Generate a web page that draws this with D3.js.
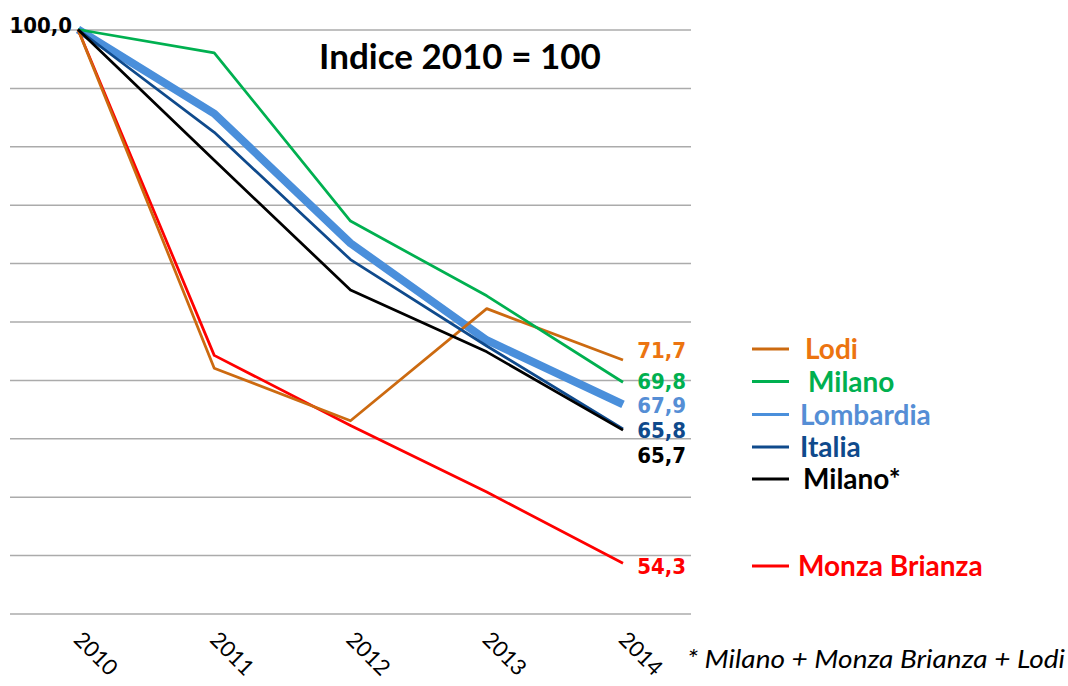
<!DOCTYPE html>
<html>
<head>
<meta charset="utf-8">
<script src="https://cdn.jsdelivr.net/npm/d3@7"></script>
<style>
  html, body { margin: 0; padding: 0; background: #ffffff; }
  svg { display: block; }
</style>
</head>
<body>
<svg id="chart" width="1068" height="686"></svg>
<script>
// Index values, 2010 = 100
const years = ["2010", "2011", "2012", "2013", "2014"];
const lodi       = [100, 71.0, 66.5, 76.1, 71.7];
const milano     = [100, 98.0, 83.6, 77.2, 69.8];
const lombardia  = [100, 92.8, 81.7, 73.4, 67.9];
const italia     = [100, 91.2, 80.3, 72.9, 65.8];
const milanoArea = [100, 88.8, 77.7, 72.4, 65.7];
const monza      = [100, 72.1, 66.1, 60.4, 54.3];

const gridTicks = [50, 55, 60, 65, 70, 75, 80, 85, 90, 95, 100];
const seriesNames = ["Lodi", "Milano", "Lombardia", "Italia", "Milano*", "Monza Brianza"];
const footnote = "* Milano + Monza Brianza + Lodi";
const title = "Indice 2010 = 100";

const fmt = v => v.toFixed(1).replace(".", ",");

// Styling for each series (draw order = bottom to top)
const series = [
  { name: "Lombardia",     values: lombardia,  line: "#4a8fdb", text: "#558ed5", width: 8,    labelDy: 1,   legendIdx: 2, legendDx: -3 },
  { name: "Monza Brianza", values: monza,      line: "#ff0000", text: "#ff0000", width: 2.75, labelDy: 3,   legendIdx: 5, legendDx: -5 },
  { name: "Lodi",          values: lodi,       line: "#cc6a10", text: "#ec7410", width: 2.75, labelDy: -10, legendIdx: 0, legendDx: 2 },
  { name: "Milano",        values: milano,     line: "#00b050", text: "#00b050", width: 2.75, labelDy: -1,  legendIdx: 1, legendDx: 5 },
  { name: "Italia",        values: italia,     line: "#0f4a8c", text: "#0f4a8c", width: 2.75, labelDy: 1,   legendIdx: 3, legendDx: -3 },
  { name: "Milano*",       values: milanoArea, line: "#000000", text: "#000000", width: 2.75, labelDy: 25,  legendIdx: 4, legendDx: 0 }
];

const svg = d3.select("#chart");

const x = d3.scalePoint().domain(years).range([78, 623]);
const y = d3.scaleLinear().domain([50, 100]).range([613.5, 29.5]);

// horizontal gridlines
const grid = svg.append("g")
  .attr("transform", "translate(10,0)")
  .call(d3.axisLeft(y).tickValues(gridTicks).tickSize(-681).tickFormat(""));
grid.select(".domain").remove();
grid.selectAll(".tick line").attr("stroke", "#ababab").attr("stroke-width", 1.5);

// year labels, rotated
const xAxis = svg.append("g")
  .call(d3.axisBottom(x).tickSize(0));
xAxis.select(".domain").remove();
xAxis.selectAll(".tick text")
  .attr("x", 0).attr("y", 0).attr("dy", null)
  .attr("text-anchor", "start")
  .attr("transform", "translate(-6,641) rotate(45)")
  .style("font-family", "Lato, sans-serif")
  .style("font-size", "22px")
  .attr("fill", "#000");

// lines
const line = d3.line()
  .x((d, i) => x(years[i]))
  .y(d => y(d));

svg.append("g").selectAll("path")
  .data(series)
  .join("path")
  .attr("d", s => line(s.values))
  .attr("fill", "none")
  .attr("stroke", s => s.line)
  .attr("stroke-width", s => s.width)
  .attr("stroke-linejoin", "round");

// end-of-line value labels
svg.append("g").selectAll("text")
  .data(series)
  .join("text")
  .attr("x", 686)
  .attr("y", s => y(s.values[4]) + s.labelDy)
  .attr("dy", "0.36em")
  .attr("text-anchor", "end")
  .style("font-family", "'DejaVu Sans Condensed', 'DejaVu Sans', sans-serif")
  .style("font-weight", "bold")
  .style("font-size", "22px")
  .attr("fill", s => s.text)
  .text(s => fmt(s.values[4]));

// starting value label
svg.append("text")
  .attr("x", 72)
  .attr("y", y(lombardia[0]) + 3)
  .attr("text-anchor", "end")
  .style("font-family", "'DejaVu Sans Condensed', 'DejaVu Sans', sans-serif")
  .style("font-weight", "bold")
  .style("font-size", "22px")
  .attr("fill", "#000")
  .text(fmt(lombardia[0]));

// title
svg.append("text")
  .attr("x", 460)
  .attr("y", 69)
  .attr("text-anchor", "middle")
  .style("font-family", "Lato, sans-serif")
  .style("font-weight", "bold")
  .style("font-size", "35px")
  .attr("fill", "#000")
  .text(title);

// legend
const legendRows = [349, 381.5, 414.5, 447, 479, 566];
const legend = svg.append("g").selectAll("g")
  .data(series)
  .join("g")
  .attr("transform", s => `translate(0,${legendRows[s.legendIdx]})`);
legend.append("line")
  .attr("x1", 752).attr("x2", 789)
  .attr("stroke", s => s.line)
  .attr("stroke-width", 3);
legend.append("text")
  .attr("x", s => 803 + s.legendDx)
  .attr("dy", "0.36em")
  .style("font-family", "Lato, sans-serif")
  .style("font-weight", "bold")
  .style("font-size", "28px")
  .attr("fill", s => s.text)
  .text(s => seriesNames[s.legendIdx]);

// footnote
svg.append("text")
  .attr("x", 687)
  .attr("y", 668)
  .attr("textLength", 378)
  .attr("lengthAdjust", "spacingAndGlyphs")
  .style("font-family", "Lato, sans-serif")
  .style("font-style", "italic")
  .style("font-size", "25px")
  .attr("fill", "#000")
  .text(footnote);
</script>
</body>
</html>
